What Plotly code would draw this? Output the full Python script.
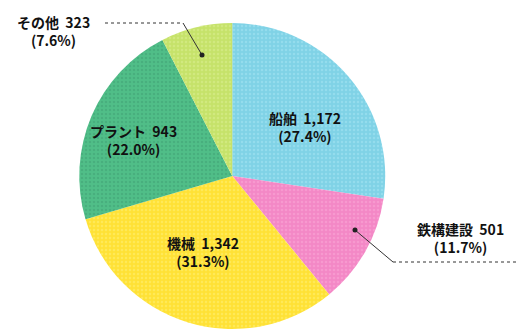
import plotly.graph_objects as go

categories = ["船舶", "鉄構建設", "機械", "プラント", "その他"]
values = [1172, 501, 1342, 943, 323]
pct_labels = ["27.4%", "11.7%", "31.3%", "22.0%", "7.6%"]
colors = ["#80d2e6", "#f388c6", "#ffe136", "#50be88", "#c6e26a"]
pattern_fg = ["#a8e6f4", "#f9aad8", "#fff07a", "#3f9f74", "#dcef94"]

fig = go.Figure()
fig.add_trace(go.Pie(
    labels=categories,
    values=values,
    sort=False,
    direction="clockwise",
    rotation=0,
    textinfo="none",
    hoverinfo="label+value",
    showlegend=False,
    marker=dict(colors=colors, line=dict(width=0),
                pattern=dict(shape=".", fgcolor=pattern_fg, bgcolor=colors,
                             size=4, solidity=0.3, fillmode="overlay")),
    domain=dict(x=[0.15, 0.745], y=[0.0, 0.93]),
))

font = dict(family="Noto Sans CJK JP", size=14, color="#111111")

def label(i):
    return f"<b>{categories[i]}  {values[i]:,}</b><br><b>({pct_labels[i]})</b>"

ann = []
ann.append(dict(x=305, y=127, text=label(0)))
ann.append(dict(x=203, y=252, text=label(2)))
ann.append(dict(x=133, y=140, text=label(3)))
ann.append(dict(x=53, y=31, text=label(4)))
ann.append(dict(x=460, y=238, text=label(1)))

annotations = []
for a in ann:
    annotations.append(dict(x=a["x"] / 519, y=1 - a["y"] / 329, xref="paper", yref="paper",
                            text=a["text"], showarrow=False, font=font, align="center",
                            xanchor="center", yanchor="middle"))

shapes = [
    dict(type="line", xref="paper", yref="paper", x0=105/519, y0=1-23/329, x1=183/519, y1=1-23/329,
         line=dict(color="#333333", width=1, dash="dot")),
    dict(type="line", xref="paper", yref="paper", x0=183/519, y0=1-23/329, x1=202/519, y1=1-55/329,
         line=dict(color="#333333", width=1)),
    dict(type="circle", xref="paper", yref="paper", x0=199.5/519, y0=1-57.5/329, x1=204.5/519, y1=1-52.5/329,
         fillcolor="#222222", line=dict(width=0)),
    dict(type="line", xref="paper", yref="paper", x0=355/519, y0=1-230/329, x1=393/519, y1=1-262/329,
         line=dict(color="#333333", width=1)),
    dict(type="line", xref="paper", yref="paper", x0=393/519, y0=1-262/329, x1=519/519, y1=1-262/329,
         line=dict(color="#333333", width=1, dash="dot")),
    dict(type="circle", xref="paper", yref="paper", x0=352.5/519, y0=1-232.5/329, x1=357.5/519, y1=1-227.5/329,
         fillcolor="#222222", line=dict(width=0)),
]

fig.update_layout(
    width=519, height=329,
    margin=dict(l=0, r=0, t=0, b=0),
    paper_bgcolor="white", plot_bgcolor="white",
    annotations=annotations, shapes=shapes,
)

fig.write_html("out.html")
